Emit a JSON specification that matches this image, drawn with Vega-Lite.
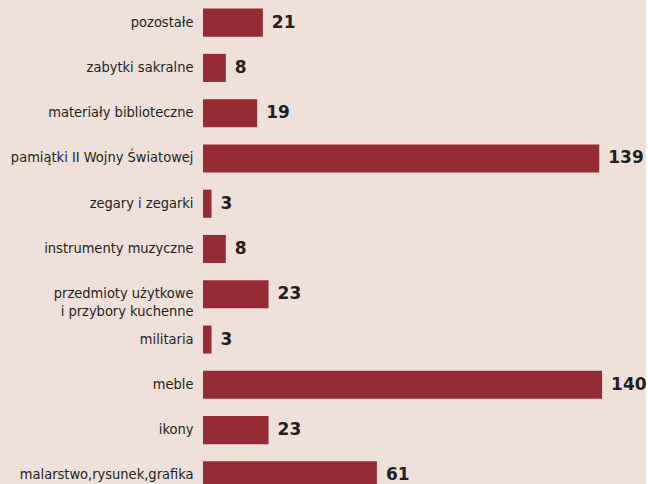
{
  "$schema": "https://vega.github.io/schema/vega-lite/v6.json",
  "width": 443,
  "height": 498,
  "autosize": "none",
  "padding": {"left": 203, "top": 0, "right": 0, "bottom": 0},
  "background": "#efe0da",
  "config": {"view": {"stroke": null}},
  "data": {"values": [
    {"kategoria": "pozostałe", "liczba": 21},
    {"kategoria": "zabytki sakralne", "liczba": 8},
    {"kategoria": "materiały biblioteczne", "liczba": 19},
    {"kategoria": "pamiątki II Wojny Światowej", "liczba": 139},
    {"kategoria": "zegary i zegarki", "liczba": 3},
    {"kategoria": "instrumenty muzyczne", "liczba": 8},
    {"kategoria": "przedmioty użytkowe|i przybory kuchenne", "liczba": 23},
    {"kategoria": "militaria", "liczba": 3},
    {"kategoria": "meble", "liczba": 140},
    {"kategoria": "ikony", "liczba": 23},
    {"kategoria": "malarstwo,rysunek,grafika", "liczba": 61}
  ]},
  "encoding": {
    "y": {
      "field": "kategoria", "type": "nominal", "sort": null,
      "scale": {"paddingInner": 0.38, "paddingOuter": 0.19},
      "axis": {
        "title": null, "domain": false, "ticks": false,
        "labelPadding": 10, "labelFont": "DejaVu Sans Condensed, Liberation Sans Narrow, sans-serif",
        "labelFontSize": 14.5, "labelColor": "#231f20", "labelLimit": 300,
        "labelLineHeight": 18,
        "labelExpr": "split(datum.label, '|')"
      }
    },
    "x": {
      "field": "liczba", "type": "quantitative",
      "scale": {"domain": [0, 155.4], "nice": false},
      "axis": null
    }
  },
  "layer": [
    {"mark": {"type": "bar", "color": "#952c33"}},
    {
      "mark": {"type": "text", "align": "left", "baseline": "middle", "dx": 9, "dy": 0,
               "font": "DejaVu Sans", "fontWeight": "bold", "fontSize": 17, "color": "#231f20"},
      "encoding": {"text": {"field": "liczba", "type": "quantitative"}}
    }
  ]
}
